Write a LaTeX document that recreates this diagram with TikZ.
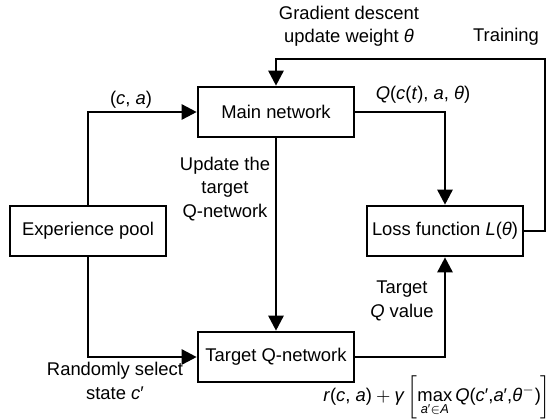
\documentclass[tikz,border=0pt]{standalone}
\usepackage{fontspec}
\setmainfont{Liberation Sans}
\usepackage{amsmath}
\usetikzlibrary{arrows.meta,positioning}
\tikzset{
    netbox/.style  = {rectangle, draw=black, line width=1.3pt, fill=white,
                      minimum width=78pt, minimum height=25pt, inner sep=1pt,
                      align=center},
    arrow/.style   = {-{Triangle[length=7.5pt,width=7.5pt]}, line width=1.3pt},
    flowlbl/.style = {align=center, inner sep=0pt}
}
\newcommand{\iv}[1]{\textit{#1}}

\begin{document}
\begin{tikzpicture}[
    x=0.5pt, y=-0.5pt,
    every node/.append style = {font=\fontsize{9.2}{11.6}\selectfont}
]
\useasboundingbox (0,0) rectangle (552,419);

% --- Boxes ---
\node[netbox] (mainnet)   at (276,112) {Main network};
\node[netbox] (pool)      at (88,231)  {Experience pool};
\node[netbox] (targetnet) at (276,357) {Target Q-network};
\node[netbox] (loss)      at (445,231) {Loss function \iv{L}(\iv{θ})};

% --- Training loop corner ---
\coordinate (trainR) at (545,59);

% --- Connectors ---
\draw[arrow] (pool.north) |- (mainnet.west);
\draw[arrow] (pool.south) |- (targetnet.west);
\draw[arrow] (mainnet.south) -- (targetnet.north);
\draw[arrow] (mainnet.east) -| (loss.north);
\draw[arrow] (targetnet.east) -| (loss.south);
\draw[arrow] (loss.east) -| (trainR) -| (mainnet.north);

% --- Labels ---
\node[flowlbl] (gradlbl)  at (349,26)  {Gradient descent\\update weight \iv{θ}};
\node[flowlbl] (trainlbl) at (506,37)  {Training};
\node[flowlbl] (qlbl)     at (423,95)  {\iv{Q}(\iv{c}(\iv{t}), \iv{a}, \iv{θ})};
\node[flowlbl] (calbl)    at (131,100) {(\iv{c}, \iv{a})};
\node[flowlbl] (updlbl)   at (225,189) {Update the\\target\\Q-network};
\node[flowlbl] (randlbl)  at (115,381) {Randomly select\\state \iv{c}′};
\node[flowlbl] (tqlbl)    at (402,301) {Target\\\iv{Q} value};
\node[flowlbl] (formula)  at (437,397)
   {$\text{\iv{r}(\iv{c}, \iv{a})}+\text{\iv{γ}}\left[\mathop{\text{max}}\limits_{\text{\iv{a}′}\in\text{\iv{A}}}
    \text{\iv{Q}(\iv{c}′,\iv{a}′,\iv{θ}}^{-}\text{)}\right]$};

\end{tikzpicture}
\end{document}
